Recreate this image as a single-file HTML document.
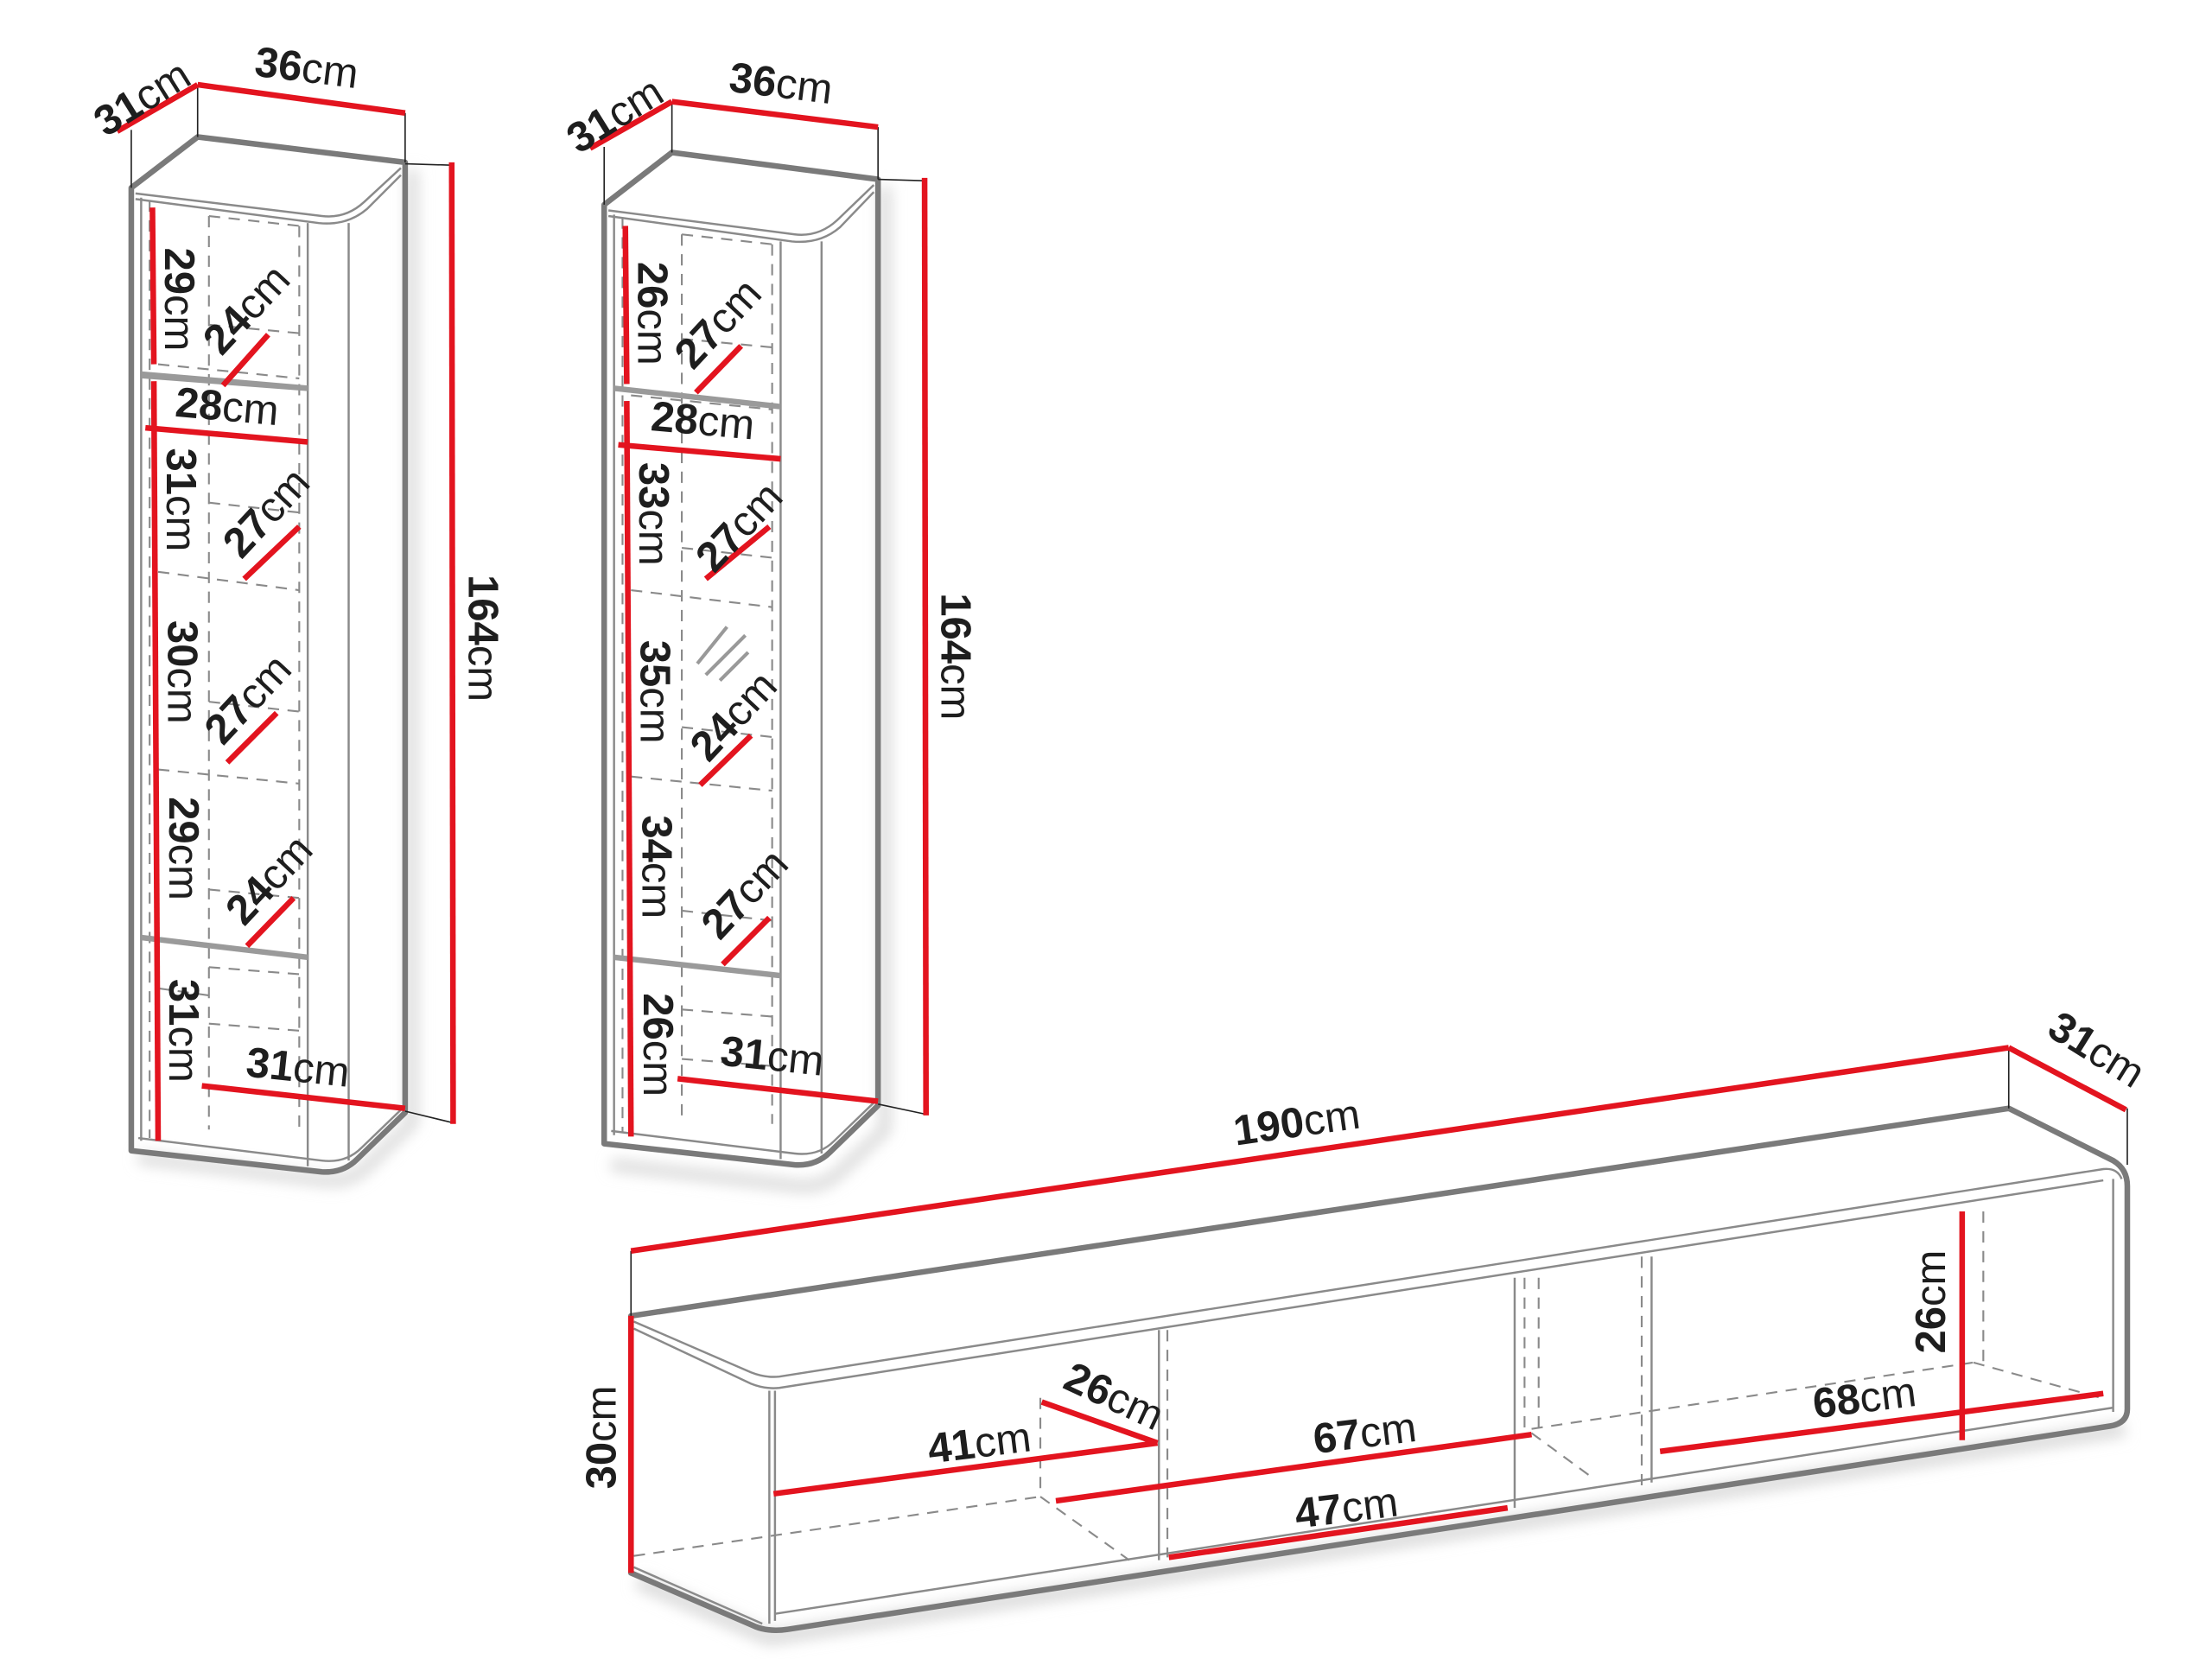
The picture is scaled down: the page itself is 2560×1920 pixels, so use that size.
<!DOCTYPE html>
<html><head><meta charset="utf-8"><style>
html,body{margin:0;padding:0;background:#fff;}
svg{display:block}
text{font-family:"Liberation Sans",sans-serif;fill:#1e1e1e;font-size:30px}
.b{font-weight:700}
.n{font-weight:400}
.o{fill:none;stroke:#7a7a7a;stroke-width:4;stroke-linejoin:round}
.t{fill:none;stroke:#8a8a8a;stroke-width:1.5}
.d{fill:none;stroke:#8a8a8a;stroke-width:1.3;stroke-dasharray:8 6}
.k{fill:none;stroke:#222;stroke-width:1}
.r{fill:none;stroke:#e3141f;stroke-width:4}
</style></head><body>
<svg width="2560" height="1920" viewBox="0 0 1567 1175" preserveAspectRatio="none" xmlns="http://www.w3.org/2000/svg">
<defs><filter id="sh" x="-20%" y="-20%" width="140%" height="140%"><feGaussianBlur stdDeviation="5"/></filter></defs>

<!-- ================= CABINET 1 ================= -->
<g>
<path d="M98,820 L230,836 Q248,838 260,826 L292,795 L292,120" stroke="#d8d8d8" stroke-width="8" fill="none" filter="url(#sh)"/>
<path class="o" d="M93,815 L93,133 L140,97 L287,115 L287,788 L253,821 Q243,831 228,830 Z" fill="#fff"/>
<path class="t" d="M96,137 L228,153 Q245,155 258,143 L284,119"/>
<path class="t" d="M96,141 L226,158 Q246,160 260,148 L284,124"/>
<line class="t" x1="100" y1="140" x2="100" y2="808"/>
<line class="d" x1="106" y1="142" x2="106" y2="806"/>
<line class="t" x1="218" y1="158" x2="218" y2="826"/>
<line class="t" x1="247" y1="158" x2="247" y2="822"/>
<path class="t" d="M98,806 L228,822 Q245,824 256,813 L284,786"/>
<line class="d" x1="148" y1="153" x2="148" y2="800"/>
<line class="d" x1="212" y1="160" x2="212" y2="800"/>
<line class="d" x1="148" y1="153" x2="212" y2="160"/>
<line class="d" x1="148" y1="230" x2="212" y2="236"/>
<line class="d" x1="112" y1="258" x2="212" y2="268"/>
<line class="d" x1="148" y1="356" x2="212" y2="363"/>
<line class="d" x1="112" y1="405" x2="212" y2="418"/>
<line class="d" x1="148" y1="497" x2="212" y2="504"/>
<line class="d" x1="112" y1="545" x2="212" y2="555"/>
<line class="d" x1="148" y1="630" x2="212" y2="636"/>
<line class="d" x1="148" y1="685" x2="212" y2="690"/>
<line class="d" x1="148" y1="725" x2="212" y2="730"/>
<line class="d" x1="112" y1="700" x2="148" y2="705"/>
<path d="M100,263 L218,273 L218,277 L100,268 Z" fill="#9a9a9a"/>
<path d="M100,662 L218,676 L218,680 L100,666 Z" fill="#9a9a9a"/>
<line class="k" x1="93" y1="92" x2="93" y2="133"/>
<line class="k" x1="140" y1="62" x2="140" y2="97"/>
<line class="k" x1="287" y1="80" x2="287" y2="115"/>
<line class="k" x1="287" y1="116" x2="320" y2="117"/>
<line class="k" x1="287" y1="787" x2="320" y2="795"/>
<line class="r" x1="83" y1="93" x2="140" y2="60"/>
<line class="r" x1="140" y1="60" x2="287" y2="80"/>
<line class="r" x1="320" y1="115" x2="321" y2="796"/>
<polyline class="r" points="108,147 109,258"/>
<polyline class="r" points="109,270 112,808"/>
<line class="r" x1="103" y1="303" x2="218" y2="313"/>
<line class="r" x1="158" y1="273" x2="190" y2="237"/>
<line class="r" x1="173" y1="410" x2="212" y2="373"/>
<line class="r" x1="161" y1="540" x2="196" y2="505"/>
<line class="r" x1="175" y1="670" x2="208" y2="636"/>
<line class="r" x1="143" y1="769" x2="287" y2="785"/>
<text transform="translate(106,78) rotate(-32)" text-anchor="middle"><tspan class="b">31</tspan><tspan class="n">cm</tspan></text>
<text transform="translate(216,58) rotate(7)" text-anchor="middle"><tspan class="b">36</tspan><tspan class="n">cm</tspan></text>
<text transform="translate(332,452) rotate(90)" text-anchor="middle"><tspan class="b">164</tspan><tspan class="n">cm</tspan></text>
<text transform="translate(117,212) rotate(90)" text-anchor="middle"><tspan class="b">29</tspan><tspan class="n">cm</tspan></text>
<text transform="translate(182,226) rotate(-47)" text-anchor="middle"><tspan class="b">24</tspan><tspan class="n">cm</tspan></text>
<text transform="translate(160,298) rotate(5)" text-anchor="middle"><tspan class="b">28</tspan><tspan class="n">cm</tspan></text>
<text transform="translate(118,354) rotate(90)" text-anchor="middle"><tspan class="b">31</tspan><tspan class="n">cm</tspan></text>
<text transform="translate(196,370) rotate(-47)" text-anchor="middle"><tspan class="b">27</tspan><tspan class="n">cm</tspan></text>
<text transform="translate(119,476) rotate(90)" text-anchor="middle"><tspan class="b">30</tspan><tspan class="n">cm</tspan></text>
<text transform="translate(183,502) rotate(-47)" text-anchor="middle"><tspan class="b">27</tspan><tspan class="n">cm</tspan></text>
<text transform="translate(120,601) rotate(90)" text-anchor="middle"><tspan class="b">29</tspan><tspan class="n">cm</tspan></text>
<text transform="translate(198,630) rotate(-47)" text-anchor="middle"><tspan class="b">24</tspan><tspan class="n">cm</tspan></text>
<text transform="translate(120,730) rotate(90)" text-anchor="middle"><tspan class="b">31</tspan><tspan class="n">cm</tspan></text>
<text transform="translate(210,766) rotate(6)" text-anchor="middle"><tspan class="b">31</tspan><tspan class="n">cm</tspan></text>
</g>

<!-- ================= CABINET 2 ================= -->
<g>
<path d="M433,825 L565,840 Q583,842 595,830 L627,800 L627,132" stroke="#d8d8d8" stroke-width="8" fill="none" filter="url(#sh)"/>
<path class="o" d="M428,810 L428,145 L476,108 L622,127 L622,783 L588,816 Q578,826 563,825 Z" fill="#fff"/>
<path class="t" d="M431,149 L563,166 Q580,168 593,156 L619,131"/>
<path class="t" d="M431,153 L561,171 Q581,173 595,161 L619,136"/>
<line class="t" x1="435" y1="152" x2="435" y2="804"/>
<line class="d" x1="441" y1="154" x2="441" y2="802"/>
<line class="t" x1="553" y1="171" x2="553" y2="821"/>
<line class="t" x1="582" y1="171" x2="582" y2="817"/>
<path class="t" d="M433,801 L563,817 Q580,819 591,808 L619,781"/>
<line class="d" x1="483" y1="166" x2="483" y2="796"/>
<line class="d" x1="547" y1="173" x2="547" y2="796"/>
<line class="d" x1="483" y1="166" x2="547" y2="173"/>
<line class="d" x1="483" y1="240" x2="547" y2="246"/>
<line class="d" x1="447" y1="280" x2="547" y2="290"/>
<line class="d" x1="483" y1="388" x2="547" y2="395"/>
<line class="d" x1="447" y1="418" x2="547" y2="430"/>
<line class="d" x1="483" y1="515" x2="547" y2="522"/>
<line class="d" x1="447" y1="550" x2="547" y2="560"/>
<line class="d" x1="483" y1="645" x2="547" y2="652"/>
<line class="d" x1="483" y1="715" x2="547" y2="720"/>
<line class="d" x1="483" y1="750" x2="547" y2="755"/>
<path d="M435,273 L553,286 L553,290 L435,277 Z" fill="#9a9a9a"/>
<path d="M435,676 L553,689 L553,693 L435,680 Z" fill="#9a9a9a"/>
<line x1="494" y1="470" x2="515" y2="444" stroke="#999" stroke-width="2.5"/>
<line x1="500" y1="478" x2="528" y2="450" stroke="#999" stroke-width="2.5"/>
<line x1="510" y1="482" x2="530" y2="462" stroke="#999" stroke-width="2.5"/>
<line class="k" x1="428" y1="104" x2="428" y2="145"/>
<line class="k" x1="476" y1="74" x2="476" y2="108"/>
<line class="k" x1="622" y1="90" x2="622" y2="127"/>
<line class="k" x1="622" y1="127" x2="655" y2="128"/>
<line class="k" x1="622" y1="782" x2="655" y2="789"/>
<line class="r" x1="418" y1="105" x2="476" y2="72"/>
<line class="r" x1="476" y1="72" x2="622" y2="90"/>
<line class="r" x1="655" y1="126" x2="656" y2="790"/>
<polyline class="r" points="443,160 444,272"/>
<polyline class="r" points="444,284 447,805"/>
<line class="r" x1="438" y1="315" x2="553" y2="325"/>
<line class="r" x1="493" y1="278" x2="525" y2="245"/>
<line class="r" x1="500" y1="410" x2="545" y2="373"/>
<line class="r" x1="496" y1="556" x2="532" y2="521"/>
<line class="r" x1="512" y1="683" x2="545" y2="650"/>
<line class="r" x1="480" y1="764" x2="622" y2="780"/>
<text transform="translate(441,90) rotate(-32)" text-anchor="middle"><tspan class="b">31</tspan><tspan class="n">cm</tspan></text>
<text transform="translate(552,69) rotate(7)" text-anchor="middle"><tspan class="b">36</tspan><tspan class="n">cm</tspan></text>
<text transform="translate(667,465) rotate(90)" text-anchor="middle"><tspan class="b">164</tspan><tspan class="n">cm</tspan></text>
<text transform="translate(452,222) rotate(90)" text-anchor="middle"><tspan class="b">26</tspan><tspan class="n">cm</tspan></text>
<text transform="translate(516,236) rotate(-47)" text-anchor="middle"><tspan class="b">27</tspan><tspan class="n">cm</tspan></text>
<text transform="translate(497,308) rotate(5)" text-anchor="middle"><tspan class="b">28</tspan><tspan class="n">cm</tspan></text>
<text transform="translate(453,364) rotate(90)" text-anchor="middle"><tspan class="b">33</tspan><tspan class="n">cm</tspan></text>
<text transform="translate(531,380) rotate(-47)" text-anchor="middle"><tspan class="b">27</tspan><tspan class="n">cm</tspan></text>
<text transform="translate(454,490) rotate(90)" text-anchor="middle"><tspan class="b">35</tspan><tspan class="n">cm</tspan></text>
<text transform="translate(527,514) rotate(-47)" text-anchor="middle"><tspan class="b">24</tspan><tspan class="n">cm</tspan></text>
<text transform="translate(455,614) rotate(90)" text-anchor="middle"><tspan class="b">34</tspan><tspan class="n">cm</tspan></text>
<text transform="translate(535,640) rotate(-47)" text-anchor="middle"><tspan class="b">27</tspan><tspan class="n">cm</tspan></text>
<text transform="translate(456,740) rotate(90)" text-anchor="middle"><tspan class="b">26</tspan><tspan class="n">cm</tspan></text>
<text transform="translate(546,758) rotate(6)" text-anchor="middle"><tspan class="b">31</tspan><tspan class="n">cm</tspan></text>
</g>

<!-- ================= TV UNIT ================= -->
<g>
<path d="M452,1120 L545,1160 L1505,1012" stroke="#d8d8d8" stroke-width="10" fill="none" filter="url(#sh)"/>
<path class="o" d="M447,932 L1423,785 L1497,822 Q1507,828 1507,840 L1507,998 Q1507,1008 1495,1010 L558,1154 Q545,1156 535,1152 L447,1114 Z" fill="#fff"/>
<path class="t" d="M449,936 L532,972 Q542,976 552,975 L1490,828 Q1500,827 1503,835"/>
<path class="t" d="M449,941 L532,980 Q542,984 552,983 L1490,836"/>
<line class="t" x1="545" y1="985" x2="545" y2="1150"/>
<line class="t" x1="549" y1="985" x2="549" y2="1148"/>
<line class="t" x1="1497" y1="835" x2="1497" y2="1000"/>
<path class="t" d="M549,1143 L1497,997"/>
<line class="t" x1="449" y1="1110" x2="540" y2="1150"/>
<line class="d" x1="449" y1="1102" x2="737" y2="1060"/>
<line class="d" x1="737" y1="1060" x2="800" y2="1105"/>
<line class="d" x1="1085" y1="1012" x2="1398" y2="965"/>
<line class="d" x1="1085" y1="1015" x2="1130" y2="1048"/>
<line class="d" x1="1398" y1="965" x2="1488" y2="990"/>
<line class="d" x1="737" y1="990" x2="737" y2="1060"/>
<line class="t" x1="821" y1="942" x2="821" y2="1105"/>
<line class="d" x1="827" y1="942" x2="827" y2="1103"/>
<line class="t" x1="1073" y1="905" x2="1073" y2="1068"/>
<line class="d" x1="1080" y1="905" x2="1080" y2="1012"/>
<line class="d" x1="1090" y1="905" x2="1090" y2="1012"/>
<line class="d" x1="1163" y1="890" x2="1163" y2="1052"/>
<line class="t" x1="1170" y1="890" x2="1170" y2="1050"/>
<line class="d" x1="1405" y1="858" x2="1405" y2="965"/>
<line class="k" x1="447" y1="886" x2="447" y2="932"/>
<line class="k" x1="1423" y1="742" x2="1423" y2="785"/>
<line class="k" x1="1507" y1="785" x2="1507" y2="825"/>
<line class="r" x1="447" y1="886" x2="1423" y2="742"/>
<line class="r" x1="1423" y1="742" x2="1506" y2="786"/>
<line class="r" x1="447" y1="932" x2="447" y2="1114"/>
<line class="r" x1="548" y1="1058" x2="820" y2="1022"/>
<line class="r" x1="738" y1="993" x2="820" y2="1022"/>
<line class="r" x1="748" y1="1063" x2="1085" y2="1016"/>
<line class="r" x1="828" y1="1103" x2="1068" y2="1068"/>
<line class="r" x1="1176" y1="1028" x2="1490" y2="987"/>
<line class="r" x1="1390" y1="858" x2="1390" y2="1020"/>
<text transform="translate(920,805) rotate(-8)" text-anchor="middle"><tspan class="b">190</tspan><tspan class="n">cm</tspan></text>
<text transform="translate(1480,752) rotate(32)" text-anchor="middle"><tspan class="b">31</tspan><tspan class="n">cm</tspan></text>
<text transform="translate(436,1018) rotate(-90)" text-anchor="middle"><tspan class="b">30</tspan><tspan class="n">cm</tspan></text>
<text transform="translate(695,1032) rotate(-7)" text-anchor="middle"><tspan class="b">41</tspan><tspan class="n">cm</tspan></text>
<text transform="translate(785,998) rotate(25)" text-anchor="middle"><tspan class="b">26</tspan><tspan class="n">cm</tspan></text>
<text transform="translate(968,1025) rotate(-7)" text-anchor="middle"><tspan class="b">67</tspan><tspan class="n">cm</tspan></text>
<text transform="translate(955,1078) rotate(-7)" text-anchor="middle"><tspan class="b">47</tspan><tspan class="n">cm</tspan></text>
<text transform="translate(1322,1000) rotate(-7)" text-anchor="middle"><tspan class="b">68</tspan><tspan class="n">cm</tspan></text>
<text transform="translate(1378,922) rotate(-90)" text-anchor="middle"><tspan class="b">26</tspan><tspan class="n">cm</tspan></text>
</g>
</svg>
</body></html>
